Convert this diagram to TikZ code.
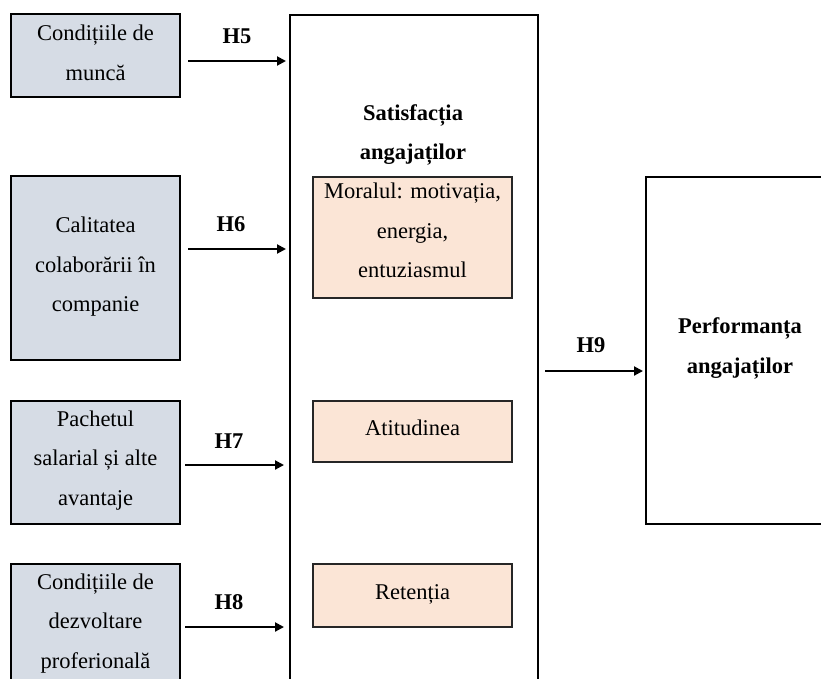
\documentclass[tikz,border=0pt]{standalone}
\usepackage{fontspec}
\setmainfont{Liberation Serif}
\usetikzlibrary{arrows.meta}
\definecolor{inputfill}{HTML}{D6DCE5}
\definecolor{partfill}{HTML}{FBE5D6}
\begin{document}
\begin{tikzpicture}[x=1pt,y=-1pt,
  every node/.style={inner sep=0pt, outer sep=0pt},
  factor/.style={draw=black, line width=2pt, fill=inputfill, minimum width=169pt, anchor=north west},
  block/.style={draw=black, line width=2.2pt, fill=white, anchor=north west},
  part/.style={draw=black!85, line width=1.4pt, fill=partfill, minimum width=199pt, anchor=north west},
  txt/.style={font=\fontsize{22.5}{39.5}\selectfont, align=center, anchor=base},
  hyp/.style={font=\fontsize{22.5}{39.5}\selectfont\bfseries, anchor=base},
  arr/.style={line width=2pt, -{Triangle[length=9pt,width=9pt]}}
]
\useasboundingbox (0,0) rectangle (821,678);
\clip (0,0) rectangle (821,678);

% independent factors
\node[factor, minimum height=83pt]  (c1) at (11,14) {};
\node[factor, minimum height=184pt] (c2) at (11,176) {};
\node[factor, minimum height=123pt] (c3) at (11,401) {};
\node[factor, minimum height=140pt] (c4) at (11,564) {};

% multi-line labels are anchored at the baseline of their last line
\node[txt] (t1) at (95.5,80)    {Condițiile de\\muncă};
\node[txt] (t2) at (95.5,311.7) {Calitatea\\colaborării în\\companie};
\node[txt] (t3) at (95.5,505)   {Pachetul\\salarial și alte\\avantaje};
\node[txt] (t4) at (95.5,668)   {Condițiile de\\dezvoltare\\proferională};

% mediating construct
\node[block, minimum width=248pt, minimum height=700pt] (sat) at (290,15) {};
\node[txt, font=\fontsize{22.5}{38.5}\selectfont\bfseries] (satt) at (413,159) {Satisfacția\\angajaților};
\node[part, minimum height=121pt] (m1) at (313,177) {};
\node[part, minimum height=61pt]  (m2) at (313,401) {};
\node[part, minimum height=63pt]  (m3) at (313,564) {};
\node[txt] (tm1) at (412.5,277.7) {Moralul: motivația,\\energia,\\entuziasmul};
\node[txt] (tm2) at (412.5,435)   {Atitudinea};
\node[txt] (tm3) at (412.5,599.3) {Retenția};

% outcome
\node[block, minimum width=240pt, minimum height=347pt] (perf) at (646,177) {};
\node[txt, font=\fontsize{22.5}{40}\selectfont\bfseries] (tp) at (740,373) {Performanța\\angajaților};

% hypotheses
\coordinate (s5) at (188,61);
\coordinate (s6) at (188,249);
\coordinate (s7) at (185,465);
\coordinate (s8) at (185,627);
\draw[arr, shorten >=4pt] (s5) -- (s5 -| sat.west);
\draw[arr, shorten >=4pt] (s6) -- (s6 -| sat.west);
\draw[arr, shorten >=6pt] (s7) -- (s7 -| sat.west);
\draw[arr, shorten >=6pt] (s8) -- (s8 -| sat.west);
\coordinate (s9) at (545,371);
\draw[arr, shorten >=3pt] (s9) -- (s9 -| perf.west);

\node[hyp] (h5) at (237,43.3)  {H5};
\node[hyp] (h6) at (231,231.7) {H6};
\node[hyp] (h7) at (229,448)   {H7};
\node[hyp] (h8) at (229,609)   {H8};
\node[hyp] (h9) at (591,352)   {H9};
\end{tikzpicture}
\end{document}
